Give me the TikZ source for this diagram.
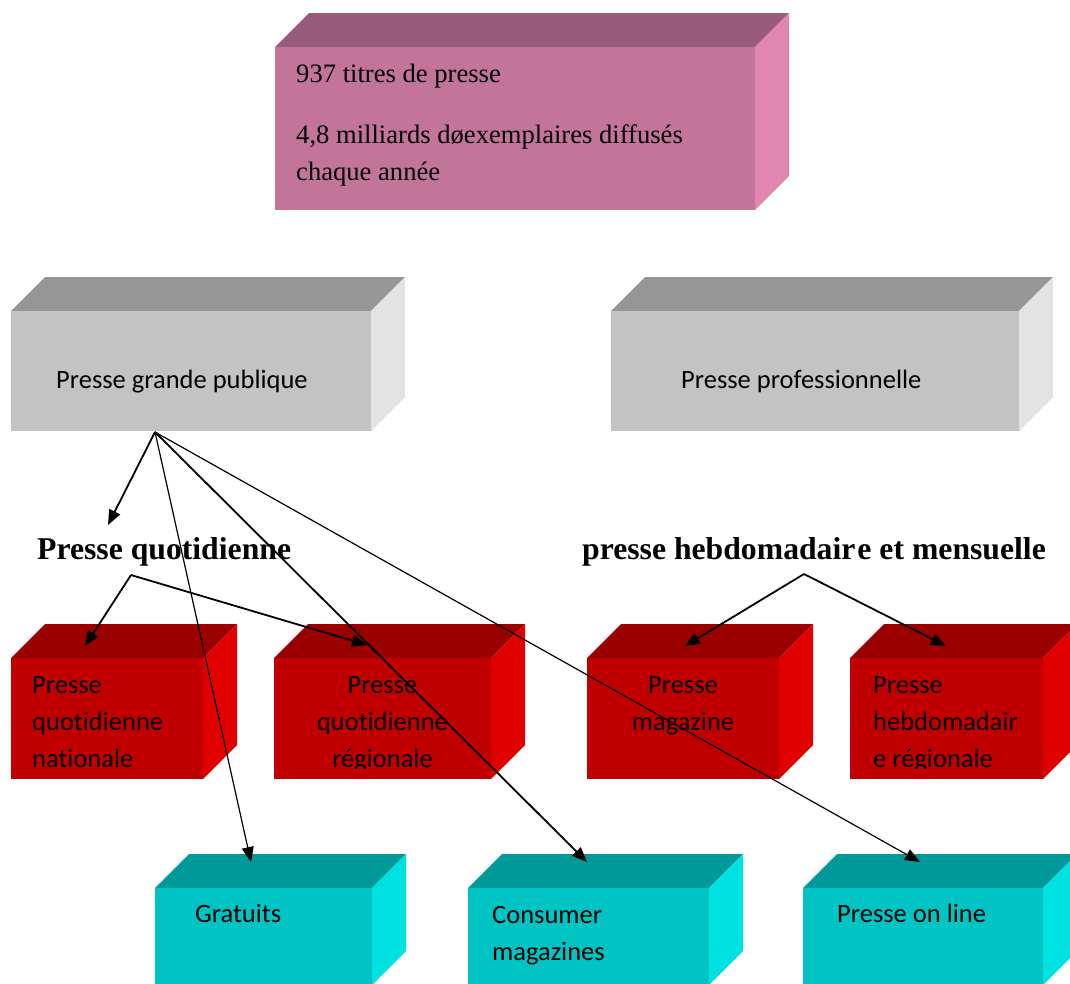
\documentclass[tikz,border=0pt]{standalone}
\usepackage{fontspec}
\setmainfont{Liberation Serif}
\newfontfamily\calib[RawFeature={-liga;-clig;-calt;-dlig;-rlig}]{Carlito}
\usetikzlibrary{arrows.meta,fit}

\definecolor{pinkTop}{HTML}{985B7A}
\definecolor{pinkFront}{HTML}{C27499}
\definecolor{pinkSide}{HTML}{E086B1}
\definecolor{greyTop}{HTML}{969696}
\definecolor{greyFront}{HTML}{C3C3C3}
\definecolor{greySide}{HTML}{E3E3E3}
\definecolor{redTop}{HTML}{9A0000}
\definecolor{redFront}{HTML}{C00000}
\definecolor{redSide}{HTML}{E00000}
\definecolor{tealTop}{HTML}{009999}
\definecolor{tealFront}{HTML}{00C4C4}
\definecolor{tealSide}{HTML}{00E2E2}

% #1 name, #2 left, #3 top, #4 right, #5 bottom, #6 colour family
\newcommand\solidbox[6]{%
  \fill[#6Top] (#2,#3) -- (#2+34,#3-34) -- (#4+34,#3-34) -- (#4,#3) -- cycle;
  \fill[#6Side] (#4,#3) -- (#4+34,#3-34) -- (#4+34,#5-34) -- (#4,#5) -- cycle;
  \coordinate (#1-nw) at (#2,#3);
  \coordinate (#1-se) at (#4,#5);
  \node[fill=#6Front, inner sep=0pt, fit=(#1-nw)(#1-se)] (#1) {};
}

% multi-line labels are placed by the baseline of their last line
\tikzset{
  serifline/.style={font=\fontsize{26.6}{37}\selectfont, anchor=base west, inner sep=0pt},
  sansline/.style={font=\calib\fontsize{26.5}{37}\selectfont, inner sep=0pt},
  heading/.style={font=\bfseries\fontsize{31.7}{37}\selectfont, anchor=base west, inner sep=0pt},
  link/.style={line width=1.8pt, -{Triangle[length=15pt,width=12pt]}},
  thinlink/.style={line width=1.2pt, -{Triangle[length=15pt,width=12pt]}},
}

\begin{document}
\begin{tikzpicture}[x=1pt,y=-1pt]
\useasboundingbox (0,0) rectangle (1070,983);
\clip (0,0) rectangle (1070,983);
\fill[white] (0,0) rectangle (1070,983);

% totals
\solidbox{total}{275}{47}{755}{210}{pink}
\node[serifline] (total-a) at (296,82) {937 titres de presse};
\node[serifline, align=left] (total-b) at (296,180) {4,8 milliards døexemplaires diffusés\\chaque année};

% two families of press
\solidbox{gp}{11}{311}{371}{431}{grey}
\node[sansline, anchor=base west] (gp-t) at (56,388) {Presse grande publique};
\solidbox{pro}{611}{311}{1019}{431}{grey}
\node[sansline, anchor=base west] (pro-t) at (681,388) {Presse professionnelle};

% headings
\node[heading] (qh) at (37,559) {Presse quotidienne};
\node[heading] (hm) at (582,559) {presse hebdomadair\hspace{2pt}e et mensuelle};

% red boxes
\solidbox{qn}{11}{658}{203}{779}{red}
\solidbox{qr}{274}{658}{491}{779}{red}
\solidbox{mag}{587}{658}{779}{779}{red}
\solidbox{hr}{850}{658}{1043}{779}{red}
\begin{scope}
  \clip (11,658) rectangle (203,768);
  \node[sansline, anchor=base west, align=left] (qn-t) at (32,767) {Presse\\quotidienne\\nationale};
\end{scope}
\begin{scope}
  \clip (274,658) rectangle (491,768);
  \node[sansline, anchor=base, align=center] (qr-t) at (382.5,767) {Presse\\quotidienne\\régionale};
\end{scope}
\begin{scope}
  \clip (587,658) rectangle (779,768);
  \node[sansline, anchor=base, align=center] (mag-t) at (683,730) {Presse\\magazine};
\end{scope}
\begin{scope}
  \clip (850,658) rectangle (1043,768);
  \node[sansline, anchor=base west, align=left] (hr-t) at (873,767) {Presse\\hebdomadair\\e régionale};
\end{scope}

% teal boxes
\solidbox{grat}{155}{888}{372}{985}{teal}
\solidbox{cons}{468}{888}{709}{985}{teal}
\solidbox{online}{803}{888}{1043}{985}{teal}
\node[sansline, anchor=base west] (grat-t) at (195,922) {Gratuits};
\node[sansline, anchor=base west, align=left] (cons-t) at (492,960) {Consumer\\magazines};
\node[sansline, anchor=base west] (online-t) at (837,922) {Presse on line};

% connector ends
\coordinate (gp-out) at (155,432);
\coordinate (qh-in) at (108,525);
\coordinate (grat-in) at (251,862);
\coordinate (cons-in) at (587,862);
\coordinate (online-in) at (920,862);
\coordinate (qh-out) at (131,575);
\coordinate (qn-in) at (85,646);
\coordinate (qr-in) at (367,645);
\coordinate (hm-out) at (804,574);
\coordinate (mag-in) at (685,646);
\coordinate (hr-in) at (946,646);

% connectors
\draw[link] (gp-out) -- (qh-in);
\draw[thinlink] (gp-out) -- (grat-in);
\draw[link] (gp-out) -- (cons-in);
\draw[thinlink] (gp-out) -- (online-in);
\draw[link] (qh-out) -- (qn-in);
\draw[link] (qh-out) -- (qr-in);
\draw[link] (hm-out) -- (mag-in);
\draw[link] (hm-out) -- (hr-in);
\end{tikzpicture}
\end{document}
